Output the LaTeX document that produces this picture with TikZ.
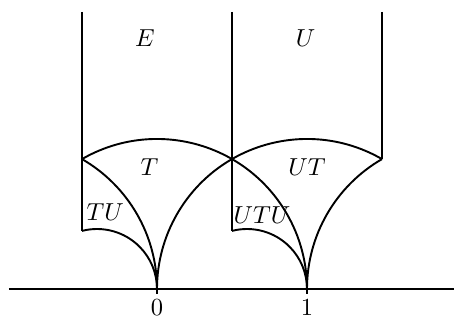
\documentclass[tikz,border=0pt]{standalone}
\usepackage{tikz}
\usetikzlibrary{calc}
\tikzset{
  edge/.style={line width=0.85pt,black},
  axisline/.style={line width=0.85pt,black},
  region/.style={font=\fontsize{11}{13}\selectfont,inner sep=0pt},
  ticklab/.style={font=\fontsize{11}{13}\selectfont,inner sep=0pt}
}

\begin{document}
\begin{tikzpicture}[x=2.35cm,y=2.35cm]
  \useasboundingbox (-1.0467,-0.2067) rectangle (1.9933,1.9267);
  % points
  \coordinate (o) at (0,0);
  \coordinate (one) at (1,0);
  \coordinate (axL) at (-0.987,0);
  \coordinate (axR) at (1.98,0);
  \coordinate (rhoL) at (-0.5,{sqrt(3)/2});
  \coordinate (rho) at (0.5,{sqrt(3)/2});
  \coordinate (rhoR) at (1.5,{sqrt(3)/2});
  \coordinate (topL) at (-0.5,1.847);
  \coordinate (topM) at (0.5,1.847);
  \coordinate (topR) at (1.5,1.847);
  \coordinate (lowL) at (-0.5,{sqrt(0.15)});
  \coordinate (lowM) at (0.5,{sqrt(0.15)});
  % axis
  \draw[axisline] (axL) -- (axR);
  \draw[axisline] (o) -- ++(0,-0.035);
  \draw[axisline] (one) -- ++(0,-0.035);
  % vertical sides
  \draw[edge] (topL) -- (lowL);
  \draw[edge] (topM) -- (lowM);
  \draw[edge] (topR) -- (rhoR);
  % big arcs
  \draw[edge] (rhoL) arc (120:0:1);
  \draw[edge] (rhoR) arc (60:180:1);
  \draw[edge] (rhoL) arc (60:0:1);
  \draw[edge] (rhoR) arc (120:180:1);
  % small arcs
  \draw[edge] (lowL) arc ({180-acos(0.25)}:0:0.4);
  \draw[edge] (lowM) arc ({180-acos(0.25)}:0:0.4);
  % labels
  \node[region] (lE) at (-0.08,1.67) {$E$};
  \node[region] (lU) at (0.99,1.67) {$U$};
  \node[region] (lT) at (-0.05,0.813) {$T$};
  \node[region] (lUT) at (1.0,0.813) {$UT$};
  \node[region] (lTU) at (-0.345,0.513) {$TU$};
  \node[region] (lUTU) at (0.70,0.495) {$UTU$};
  \node[ticklab] (l0) at (0,-0.127) {$0$};
  \node[ticklab] (l1) at (1,-0.127) {$1$};
\end{tikzpicture}
\end{document}
